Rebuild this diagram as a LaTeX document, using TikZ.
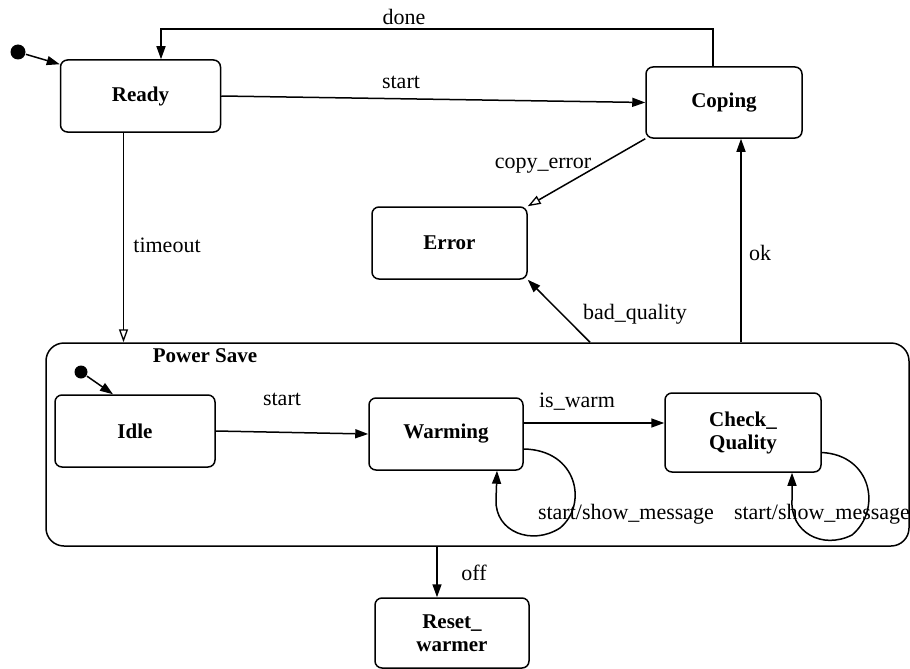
\documentclass[tikz,border=0pt]{standalone}
\usepackage{fontspec}
\setmainfont{Liberation Serif}
\usetikzlibrary{arrows.meta,calc}

\begin{document}
\begin{tikzpicture}[x=1pt,y=-1pt,
  line width=1.5pt,
  state/.style={draw, rounded corners=7pt, font=\fontsize{21}{23}\selectfont\bfseries,
    align=center, inner sep=0pt},
  trans/.style={font=\fontsize{22}{24}\selectfont, inner sep=1pt},
  fill tip/.style={-{Triangle[length=13pt,width=9pt]}},
  open tip/.style={-{Triangle[open,length=13pt,width=9pt,line width=1.3pt]}},
  initdot/.style={circle, fill=black, inner sep=0pt, minimum size=15pt}]

\useasboundingbox (0,0) rectangle (910,669);

% top level states
\node[state, minimum width=160pt, minimum height=72pt] (ready) at (140.5,96) {Ready};
\node[state, minimum width=156pt, minimum height=71pt] (coping) at (724,102.5) {Coping};
\node[state, minimum width=155pt, minimum height=72pt] (error) at (449.5,243) {Error};
\node[state, minimum width=154pt, minimum height=70pt] (reset) at (452,633) {Reset\_\\warmer};

% composite state
\node[draw, rounded corners=18pt, minimum width=863pt, minimum height=203pt, inner sep=0pt]
  (ps) at (477.5,444.5) {};
\node[font=\fontsize{21}{23}\selectfont\bfseries] (pslabel) at (205,356) {Power Save};

% nested states
\node[state, minimum width=160pt, minimum height=72pt] (idle) at (135,431) {Idle};
\node[state, minimum width=154pt, minimum height=72pt] (warming) at (446,434) {Warming};
\node[state, minimum width=156pt, minimum height=79pt] (check) at (743,432.5) {Check\_\\Quality};

% initial pseudo states
\node[initdot] (init) at (18,52) {};
\node[initdot, minimum size=13pt] (init2) at (81,372) {};

% attachment points on borders
\coordinate (doneA) at ($(coping.north)+(-11,0)$);
\coordinate (doneB) at ($(ready.north)+(20.5,0)$);
\coordinate (toA) at ($(ready.south)+(-17,0)$);
\coordinate (bqA) at (590,0);
\coordinate (okA) at ($(coping.south)+(17,0)$);
\coordinate (idleTop) at ($(idle.north)+(-22,0)$);
\coordinate (iwA) at ($(warming.east)+(0,-11)$);
\coordinate (offB) at ($(reset.north)+(-15,0)$);
\coordinate (wlA) at ($(warming.east)+(0,15)$);
\coordinate (wlB) at ($(warming.south)+(51,0)$);
\coordinate (clA) at ($(check.east)+(0,20)$);
\coordinate (clB) at ($(check.south)+(49,0)$);

% transitions
\draw[fill tip] (init) -- ($(ready.north west)+(0,5)$);
\draw[fill tip] (doneA) -- ++(0,-37) -| (doneB);
\node[trans] (ldone) at (404,17) {done};

\draw[fill tip] (ready.east) -- (coping.west);
\node[trans] (lstart) at (401,82) {start};

\draw[open tip] (coping.south west) -- (error.north east);
\node[trans] (lcopy) at (543,166) {copy\_error};

\draw[open tip] (toA) -- (toA |- ps.north);
\node[trans] (ltimeout) at (167,245) {timeout};

\draw[fill tip] (bqA |- ps.north) -- (error.south east);
\node[trans] (lbad) at (635,314) {bad\_quality};

\draw[fill tip] (okA |- ps.north) -- (okA);
\node[trans] (lok) at (760,253) {ok};

\draw[fill tip] (init2) -- (idleTop);

\draw[fill tip] (idle.east) -- (warming.west);
\node[trans] (lstart2) at (282,399) {start};

\draw[fill tip] (iwA) -- (iwA -| check.west);
\node[trans] (lwarm) at (577,402) {is\_warm};

\draw[fill tip] (wlA) .. controls (578,450) and (588,505) .. (560,528)
  .. controls (532,546) and (495,532) .. (496,500) -- (wlB);
\node[trans] (lmsg1) at (626,514) {start/show\_message};

\draw[fill tip] (clA) .. controls (872,455) and (882,510) .. (852,535)
  .. controls (822,550) and (790,532) .. (792,500) -- (clB);
\node[trans] (lmsg2) at (822,514) {start/show\_message};

\draw[fill tip] (offB |- ps.south) -- (offB);
\node[trans] (loff) at (474,573) {off};

\end{tikzpicture}
\end{document}
